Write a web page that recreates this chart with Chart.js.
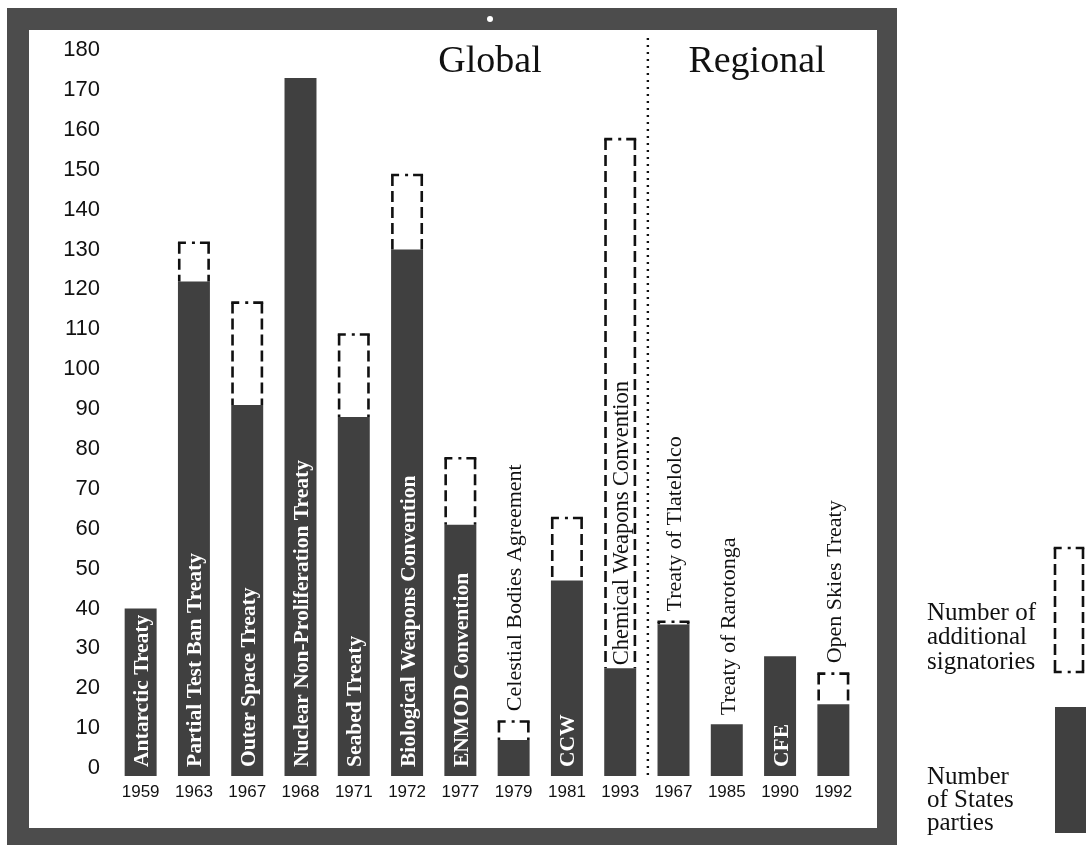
<!DOCTYPE html>
<html>
<head>
<meta charset="utf-8">
<script src="https://cdn.jsdelivr.net/npm/chart.js@4.4.1/dist/chart.umd.min.js"></script>
<style>
html,body{margin:0;padding:0;background:#fff;}
#wrap{width:1086px;height:845px;position:relative;}
</style>
</head>
<body>
<div id="wrap"><canvas id="c"></canvas></div>
<script>
// ---- data ----
const years = ['1959','1963','1967','1968','1971','1972','1977','1979','1981','1993','1967','1985','1990','1992'];
const treaties = ['Antarctic Treaty','Partial Test Ban Treaty','Outer Space Treaty','Nuclear Non-Proliferation Treaty',
  'Seabed Treaty','Biological Weapons Convention','ENMOD Convention','Celestial Bodies Agreement','CCW',
  'Chemical Weapons Convention','Treaty of Tlatelolco','Treaty of Rarotonga','CFE','Open Skies Treaty'];
const statesParties         = [42,124,93,175,90,132,63, 9,49, 27,38,13,30,18];
const additionalSignatories = [ 0, 10,26,  0,21, 19,17, 5,16,133, 1, 0, 0, 8];
const yMin = 0, yMax = 180, yStep = 10;
const groupTitles = ['Global','Regional'];
const legendParties = ['Number','of States','parties'];
const legendSignatories = ['Number of','additional','signatories'];
// label placement style per bar (in = white inside bar, above = above bar, inbox = inside dashed box)
const labelPlacement = ['in','in','in','in','in','in','in','above','in','inbox','above','above','in','above'];

const BAR = '#404040', FRAME = '#4c4c4c', INK = '#111111';

const decor = {
  id: 'decor',
  beforeDraw(chart) {
    const ctx = chart.ctx;
    ctx.save();
    ctx.fillStyle = '#ffffff';
    ctx.fillRect(0, 0, chart.width, chart.height);
    ctx.fillStyle = FRAME;
    ctx.fillRect(7, 8, 890, 860);
    ctx.fillStyle = '#ffffff';
    ctx.fillRect(29, 30, 848, 798);
    ctx.beginPath(); ctx.arc(490, 19, 3, 0, Math.PI * 2); ctx.fill();
    ctx.restore();
  },
  afterDatasetsDraw(chart) {
    const ctx = chart.ctx;
    const m0 = chart.getDatasetMeta(0), m1 = chart.getDatasetMeta(1);
    const xs = chart.scales.x;
    ctx.save();
    // dashed boxes for additional signatories
    m1.data.forEach((el, i) => {
      if (additionalSignatories[i] <= 0) return;
      const p = el.getProps(['x', 'y', 'base', 'width'], true);
      const lw = 2.6;
      const l = p.x - p.width / 2 + lw / 2, r = p.x + p.width / 2 - lw / 2;
      const t = p.y + lw / 2, b = p.base;
      ctx.strokeStyle = INK;
      ctx.lineWidth = lw;
      ctx.lineCap = 'butt';
      ctx.setLineDash([11, 5]);
      ctx.beginPath(); ctx.moveTo(l, t); ctx.lineTo(l, b); ctx.stroke();
      ctx.beginPath(); ctx.moveTo(r, t); ctx.lineTo(r, b); ctx.stroke();
      ctx.setLineDash([8, 6, 3, 5, 20]);
      ctx.beginPath(); ctx.moveTo(l - lw / 2, t); ctx.lineTo(r + lw / 2, t); ctx.stroke();
    });
    ctx.setLineDash([]);
    // labels
    m0.data.forEach((el, i) => {
      const p = el.getProps(['x', 'y', 'base', 'width'], true);
      const top = m1.data[i].getProps(['y'], true).y;
      const mode = labelPlacement[i];
      let startY, font, color;
      if (mode === 'in') { startY = p.base - 9; font = 'bold 21.5px "Liberation Serif"'; color = '#ffffff'; }
      else if (mode === 'inbox') { startY = p.y - 3; font = '22.5px "Liberation Serif"'; color = INK; }
      else { startY = Math.min(top, p.y) - 9; font = '22px "Liberation Serif"'; color = INK; }
      ctx.save();
      ctx.translate(p.x + 1, startY);
      ctx.rotate(-Math.PI / 2);
      ctx.font = font;
      ctx.fillStyle = color;
      ctx.textAlign = 'left';
      ctx.textBaseline = 'middle';
      ctx.fillText(treaties[i], 0, 1);
      ctx.restore();
    });
    // dotted separator between global and regional
    const sepX = (xs.getPixelForValue(9) + xs.getPixelForValue(10)) / 2 + 1;
    ctx.strokeStyle = INK;
    ctx.lineWidth = 2.4;
    ctx.setLineDash([2, 5]);
    ctx.beginPath(); ctx.moveTo(sepX, 38); ctx.lineTo(sepX, chart.chartArea.bottom); ctx.stroke();
    ctx.setLineDash([]);
    // group titles
    ctx.font = '38px "Liberation Serif"';
    ctx.fillStyle = INK;
    ctx.textAlign = 'center';
    ctx.textBaseline = 'alphabetic';
    ctx.fillText(groupTitles[0], 490, 72);
    ctx.fillText(groupTitles[1], 757, 72);
    // legend
    ctx.font = '25px "Liberation Serif"';
    ctx.textAlign = 'left';
    ctx.textBaseline = 'middle';
    legendSignatories.forEach((s, k) => ctx.fillText(s, 927, 613 + k * 24.5));
    legendParties.forEach((s, k) => ctx.fillText(s, 927, 777 + k * 23));
    // legend dashed box
    const lw = 2.6, L = 1055, R = 1083, T = 548, B = 672;
    ctx.lineWidth = lw;
    ctx.setLineDash([11, 5]);
    ctx.beginPath(); ctx.moveTo(L, T); ctx.lineTo(L, B); ctx.stroke();
    ctx.beginPath(); ctx.moveTo(R, T); ctx.lineTo(R, B); ctx.stroke();
    ctx.setLineDash([8, 6, 3, 5, 20]);
    ctx.beginPath(); ctx.moveTo(L - 1.3, T); ctx.lineTo(R + 1.3, T); ctx.stroke();
    ctx.beginPath(); ctx.moveTo(L - 1.3, B); ctx.lineTo(R + 1.3, B); ctx.stroke();
    ctx.setLineDash([]);
    // legend dark box
    ctx.fillStyle = BAR;
    ctx.fillRect(1055, 707, 31, 126);
    ctx.restore();
  }
};

new Chart(document.getElementById('c'), {
  type: 'bar',
  data: {
    labels: years,
    datasets: [
      { label: 'Number of States parties', data: statesParties, backgroundColor: BAR, borderWidth: 0 },
      { label: 'Number of additional signatories', data: additionalSignatories, backgroundColor: 'rgba(255,255,255,0)', borderWidth: 0 }
    ]
  },
  options: {
    responsive: true,
    maintainAspectRatio: false,
    animation: false,
    devicePixelRatio: 1,
    layout: { padding: { left: 30, right: 226, top: 58, bottom: 29 } },
    plugins: { legend: { display: false }, tooltip: { enabled: false }, title: { display: false } },
    datasets: { bar: { barPercentage: 0.6, categoryPercentage: 1.0 } },
    scales: {
      x: {
        stacked: true,
        grid: { display: false, drawTicks: false },
        border: { display: false },
        ticks: { color: INK, font: { family: '"Liberation Sans"', size: 17 }, padding: 6, maxRotation: 0, autoSkip: false },
        afterFit(s) { s.height = 40; }
      },
      y: {
        stacked: true,
        min: yMin, max: yMax,
        grid: { display: false, drawTicks: false },
        border: { display: false },
        ticks: { stepSize: yStep, color: INK, font: { family: '"Liberation Sans"', size: 22 }, padding: 14, labelOffset: -8 },
        afterFit(s) { s.width = 84; }
      }
    }
  },
  plugins: [decor]
});
</script>
</body>
</html>
